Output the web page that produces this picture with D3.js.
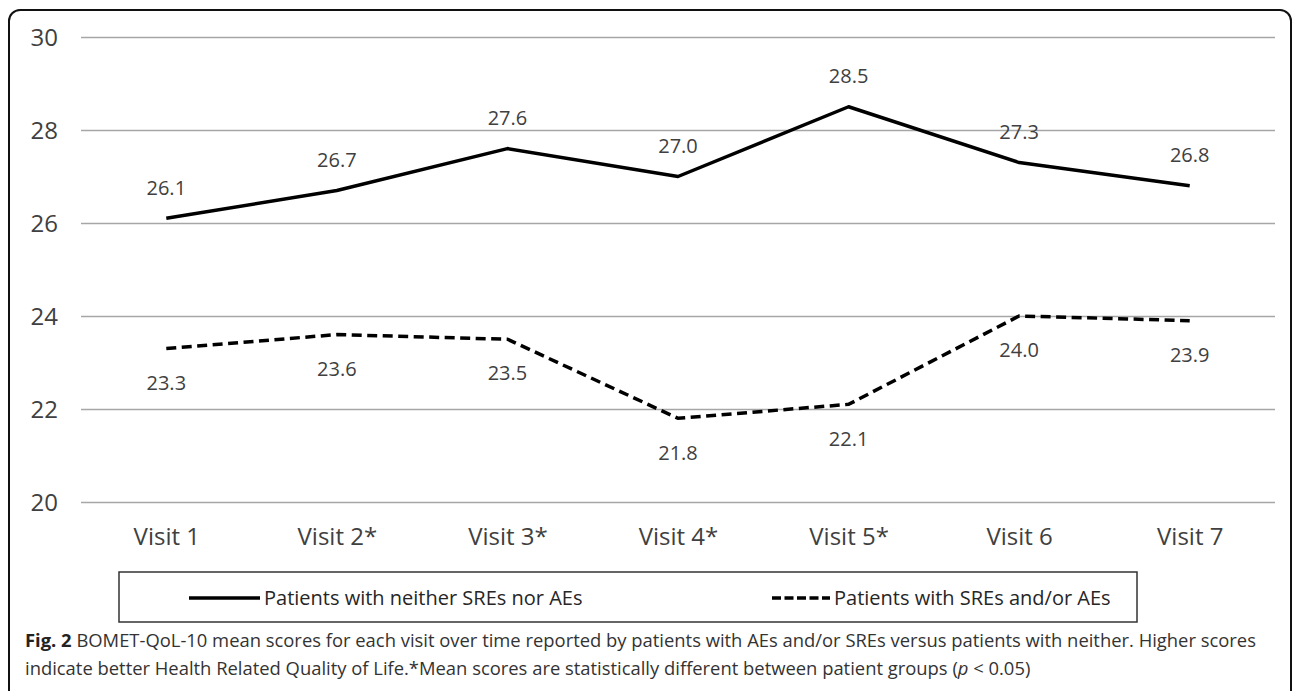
<!DOCTYPE html>
<html lang="en">
<head>
    <meta charset="UTF-8">
    <title>BOMET-QoL-10 mean scores</title>
    <script src="https://d3js.org/d3.v7.min.js"></script>
    <style>
        body { margin: 0; background: #fff; }
        svg { display: block; font-family: "Open Sans", sans-serif; }
        .grid line { stroke: #a6a6a6; stroke-width: 1.3; }
        .grid text { fill: #404040; font-size: 24px; font-family: "Open Sans", sans-serif; }
        .xaxis text { fill: #404040; font-size: 24px; font-family: "Open Sans", sans-serif; }
        .vlabel { fill: #404040; font-size: 20px; text-anchor: middle; }
        .legend text { fill: #262626; font-size: 20px; }
        .caption { fill: #333; font-size: 18.4px; }
    </style>
</head>
<body>
<div id="chart"></div>
<script>
    const visits = ["Visit 1", "Visit 2*", "Visit 3*", "Visit 4*", "Visit 5*", "Visit 6", "Visit 7"];
    const neither = [26.1, 26.7, 27.6, 27.0, 28.5, 27.3, 26.8];
    const withEvents = [23.3, 23.6, 23.5, 21.8, 22.1, 24.0, 23.9];
    const yTicks = [20, 22, 24, 26, 28, 30];
    const seriesNames = ["Patients with neither SREs nor AEs", "Patients with SREs and/or AEs"];

    const W = 1292, H = 691;
    const plot = { left: 81, right: 1275, top: 37, bottom: 502 };

    const svg = d3.select("#chart").append("svg")
        .attr("width", W)
        .attr("height", H);

    // outer frame, rounded at the top, runs off the bottom
    svg.append("rect")
        .attr("x", 9).attr("y", 10)
        .attr("width", 1282).attr("height", 800)
        .attr("rx", 11)
        .attr("fill", "none")
        .attr("stroke", "#111")
        .attr("stroke-width", 2);

    const x = d3.scalePoint().domain(visits).range([plot.left, plot.right]).padding(0.5);
    const y = d3.scaleLinear().domain([20, 30]).range([plot.bottom, plot.top]);

    // gridlines + y labels
    const grid = svg.append("g")
        .attr("class", "grid")
        .attr("transform", `translate(${plot.left},0)`)
        .call(d3.axisLeft(y).tickValues(yTicks).tickFormat(d3.format("d"))
            .tickSize(-(plot.right - plot.left)).tickPadding(23));
    grid.select(".domain").remove();
    grid.selectAll("text").attr("dy", "0.36em");

    // x labels
    const xa = svg.append("g")
        .attr("class", "xaxis")
        .attr("transform", `translate(0,${plot.bottom})`)
        .call(d3.axisBottom(x).tickSize(0));
    xa.select(".domain").remove();
    xa.selectAll("text").attr("y", 26).attr("dy", "0.71em");

    const line = d3.line()
        .x((d, i) => x(visits[i]))
        .y(d => y(d));

    svg.append("path")
        .datum(neither)
        .attr("d", line)
        .attr("fill", "none")
        .attr("stroke", "#000")
        .attr("stroke-width", 3.5)
        .attr("stroke-linejoin", "round");

    svg.append("path")
        .datum(withEvents)
        .attr("d", line)
        .attr("fill", "none")
        .attr("stroke", "#000")
        .attr("stroke-width", 3.5)
        .attr("stroke-dasharray", "10,5.5");

    // value labels
    svg.selectAll(".lab1")
        .data(neither)
        .enter().append("text")
        .attr("class", "vlabel")
        .attr("x", (d, i) => x(visits[i]))
        .attr("y", d => y(d) - 31)
        .attr("dy", "0.36em")
        .text(d => d.toFixed(1));

    svg.selectAll(".lab2")
        .data(withEvents)
        .enter().append("text")
        .attr("class", "vlabel")
        .attr("x", (d, i) => x(visits[i]))
        .attr("y", d => y(d) + 34)
        .attr("dy", "0.36em")
        .text(d => d.toFixed(1));

    // legend
    const lg = svg.append("g").attr("class", "legend");
    lg.append("rect")
        .attr("x", 119).attr("y", 572)
        .attr("width", 1018).attr("height", 50)
        .attr("fill", "none")
        .attr("stroke", "#333")
        .attr("stroke-width", 1.5);

    const ly = 598;
    lg.append("line")
        .attr("x1", 189).attr("x2", 260).attr("y1", ly).attr("y2", ly)
        .attr("stroke", "#000").attr("stroke-width", 3.5);
    lg.append("text").attr("x", 264).attr("y", ly).attr("dy", "0.36em").text(seriesNames[0]);

    lg.append("line")
        .attr("x1", 772).attr("x2", 830).attr("y1", ly).attr("y2", ly)
        .attr("stroke", "#000").attr("stroke-width", 3.5)
        .attr("stroke-dasharray", "9,3.5");
    lg.append("text").attr("x", 834).attr("y", ly).attr("dy", "0.36em").text(seriesNames[1]);

    // caption
    const cap1 = svg.append("text").attr("class", "caption").attr("x", 25).attr("y", 647);
    cap1.append("tspan").attr("font-weight", "bold").attr("fill", "#222").text("Fig. 2");
    cap1.append("tspan").text(" BOMET-QoL-10 mean scores for each visit over time reported by patients with AEs and/or SREs versus patients with neither. Higher scores");

    const cap2 = svg.append("text").attr("class", "caption").attr("x", 25).attr("y", 675);
    cap2.append("tspan").text("indicate better Health Related Quality of Life.*Mean scores are statistically different between patient groups (");
    cap2.append("tspan").attr("font-style", "italic").text("p");
    cap2.append("tspan").text(" < 0.05)");
</script>
</body>
</html>
